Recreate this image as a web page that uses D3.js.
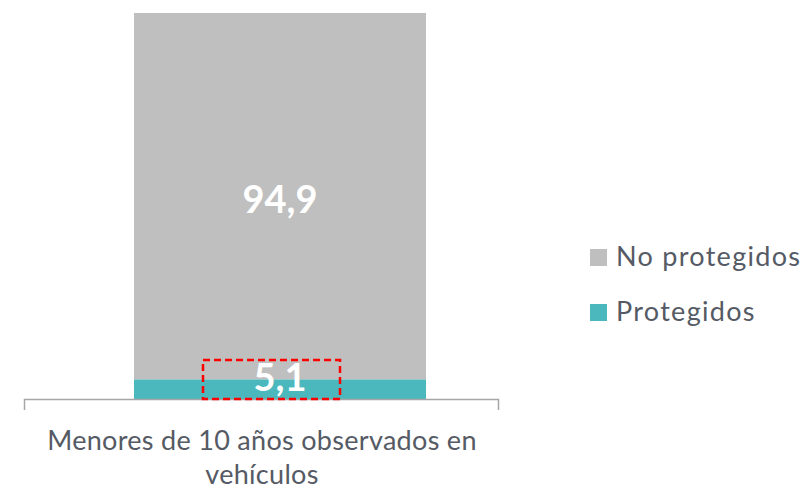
<!DOCTYPE html>
<html><head><meta charset="utf-8">
<script src="https://cdn.jsdelivr.net/npm/d3@7"></script>
<style>body{margin:0;background:#fff}svg{display:block}</style>
</head><body>
<script>
const categories = ["Menores de 10 años observados en vehículos"];
const categoryLines = [["Menores de 10 años observados en", "vehículos"]];
const seriesNames = ["Protegidos", "No protegidos"];
const protegidos = [5.1];
const noProtegidos = [94.9];
const labels = [["5,1"], ["94,9"]];
const colors = ["#4bb8be", "#bfbfbf"];

const W = 805, H = 489;
const svg = d3.select("body").append("svg").attr("width", W).attr("height", H);
const font = "Lato, 'Open Sans', sans-serif";
const textColor = "#555a64";

const y = d3.scaleLinear().domain([0, 100]).range([399, 13]);
const x = d3.scaleBand().domain(categories).range([134, 426]).padding(0);

const data = categories.map((c, i) => ({cat: c, Protegidos: protegidos[i], "No protegidos": noProtegidos[i]}));
const stack = d3.stack().keys(seriesNames)(data);

svg.append("g").selectAll("g").data(stack).join("g")
  .attr("fill", (d, i) => colors[i])
  .selectAll("rect").data(d => d).join("rect")
  .attr("x", d => x(d.data.cat)).attr("width", x.bandwidth())
  .attr("y", d => y(d[1])).attr("height", d => y(d[0]) - y(d[1]));

// axis line
svg.append("path").attr("d", "M24.5,410 V399.5 H498.5 V410")
  .attr("fill", "none").attr("stroke", "#a6a6a6").attr("stroke-width", 1.5);

// value labels
stack.forEach((s, si) => {
  s.forEach((d, i) => {
    const cx = x(d.data.cat) + x.bandwidth() / 2;
    const cy = si === 0 ? 391 : 213;
    svg.append("text").attr("x", cx).attr("y", cy)
      .attr("text-anchor", "middle").attr("fill", "#fff")
      .attr("font-family", font).attr("font-weight", "bold").attr("font-size", 38)
      .text(labels[si][i]);
  });
});

// red dashed highlight box around small label
svg.append("rect").attr("x", 203).attr("y", 360).attr("width", 137).attr("height", 39)
  .attr("fill", "none").attr("stroke", "#ff0000").attr("stroke-width", 2.5)
  .attr("stroke-dasharray", "7,4");

// category label
categoryLines[0].forEach((t, k) => {
  svg.append("text").attr("x", 262).attr("y", 450 + k * 34)
    .attr("text-anchor", "middle").attr("fill", textColor)
    .attr("font-family", font).attr("font-size", 27).attr("letter-spacing", 0.3)
    .text(t);
});

// legend
const legendItems = [{name: "No protegidos", color: colors[1]}, {name: "Protegidos", color: colors[0]}];
const lg = svg.append("g").selectAll("g").data(legendItems).join("g")
  .attr("transform", (d, i) => `translate(590,${249 + i * 55})`);
lg.append("rect").attr("width", 17).attr("height", 17).attr("fill", d => d.color);
lg.append("text").attr("x", 26).attr("y", 17).attr("fill", textColor)
  .attr("font-family", font).attr("font-size", 27).attr("letter-spacing", 1.3)
  .text(d => d.name);
</script>
</body></html>
